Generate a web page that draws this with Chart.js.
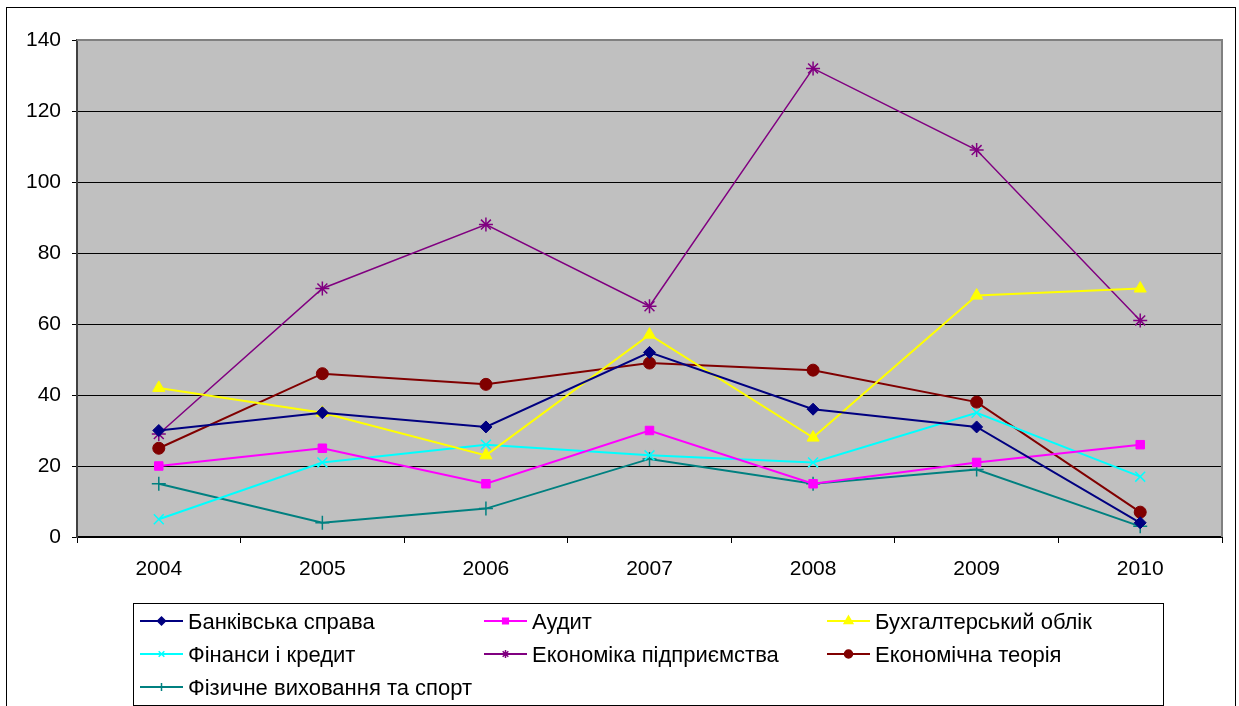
<!DOCTYPE html>
<html>
<head>
<meta charset="utf-8">
<script src="https://cdn.jsdelivr.net/npm/chart.js@4.4.1/dist/chart.umd.min.js"></script>
<style>
  html, body { margin: 0; padding: 0; background: #fff; }
  #wrap { width: 1239px; height: 706px; }
</style>
</head>
<body>
<div id="wrap"><canvas id="lineChart" width="1239" height="706"></canvas></div>
<script>
var years = ['2004', '2005', '2006', '2007', '2008', '2009', '2010'];

var seriesNames = [
  'Банківська справа',
  'Аудит',
  'Бухгалтерський облік',
  'Фінанси і кредит',
  'Економіка підприємства',
  'Економічна теорія',
  'Фізичне виховання та спорт'
];

var banking = [30, 35, 31, 52, 36, 31, 4];
var audit = [20, 25, 15, 30, 15, 21, 26];
var accounting = [42, 35, 23, 57, 28, 68, 70];
var finance = [5, 21, 26, 23, 21, 35, 17];
var enterprise = [29, 70, 88, 65, 132, 109, 61];
var theory = [25, 46, 43, 49, 47, 38, 7];
var sport = [15, 4, 8, 22, 15, 19, 3];

var colors = ['#000080', '#FF00FF', '#FFFF00', '#00FFFF', '#800080', '#800000', '#008080'];
var markers = ['rectRot', 'rect', 'triangle', 'crossRot', 'star', 'circle', 'cross'];
var values = [banking, audit, accounting, finance, enterprise, theory, sport];

var FONT = '"Liberation Sans", Arial, sans-serif';

var datasets = values.map(function (v, i) {
  var hollow = markers[i] === 'crossRot' || markers[i] === 'star' || markers[i] === 'cross';
  return {
    label: seriesNames[i],
    data: v,
    borderColor: colors[i],
    backgroundColor: colors[i],
    pointBackgroundColor: colors[i],
    pointBorderColor: colors[i],
    borderWidth: i === 4 ? 1.5 : 2,
    pointStyle: markers[i],
    pointRadius: markers[i] === 'triangle' ? 7 : (hollow ? 7 : 6),
    pointBorderWidth: hollow ? 1.5 : 1,
    tension: 0,
    fill: false
  };
});

// grey plot area, its border, and the frame round the whole chart
var framePlugin = {
  id: 'framePlugin',
  beforeDraw: function (chart) {
    var c = chart.ctx, a = chart.chartArea;
    c.save();
    c.fillStyle = '#fff';
    c.fillRect(0, 0, chart.width, chart.height);
    c.fillStyle = '#C0C0C0';
    c.fillRect(a.left, a.top, a.right - a.left, a.bottom - a.top);
    c.strokeStyle = '#000';
    c.lineWidth = 1;
    c.strokeRect(6.5, 7.5, 1229, 710);
    c.restore();
  },
  afterDraw: function (chart) {
    var c = chart.ctx, a = chart.chartArea;
    c.save();
    c.strokeStyle = '#808080';
    c.lineWidth = 2;
    c.beginPath();
    c.moveTo(a.left, a.top);
    c.lineTo(a.right, a.top);
    c.lineTo(a.right, a.bottom);
    c.stroke();
    c.restore();
  }
};

// boxed legend, three columns
var boxLegend = {
  id: 'boxLegend',
  afterDraw: function (chart) {
    var c = chart.ctx;
    var boxX = 133, boxY = 603, boxW = 1030, boxH = 102;
    var colX = [140, 484, 827];
    var rowY = [621, 654, 687];
    c.save();
    c.strokeStyle = '#000';
    c.lineWidth = 1;
    c.strokeRect(boxX + 0.5, boxY + 0.5, boxW, boxH);
    chart.data.datasets.forEach(function (ds, i) {
      var x = colX[i % 3], y = rowY[Math.floor(i / 3)];
      c.strokeStyle = ds.borderColor;
      c.lineWidth = 2;
      c.beginPath();
      c.moveTo(x, y);
      c.lineTo(x + 43, y);
      c.stroke();
      c.fillStyle = ds.borderColor;
      c.lineWidth = 1.5;
      Chart.helpers.drawPoint(c, {
        pointStyle: ds.pointStyle,
        radius: ds.pointStyle === 'triangle' ? 5 : 4,
        rotation: 0,
        borderWidth: 1.5
      }, x + 21.5, y);
      c.fillStyle = '#000';
      c.font = '22px ' + FONT;
      c.textBaseline = 'middle';
      c.textAlign = 'left';
      c.fillText(ds.label, x + 48, y + 2);
    });
    c.restore();
  }
};

var ctx = document.getElementById('lineChart');
var lineChart = new Chart(ctx, {
  type: 'line',
  data: { labels: years, datasets: datasets },
  plugins: [framePlugin, boxLegend],
  options: {
    responsive: false,
    animation: false,
    devicePixelRatio: 1,
    layout: { padding: { left: 0, right: 17, top: 40, bottom: 0 } },
    plugins: {
      legend: { display: false },
      tooltip: { enabled: false },
      title: { display: false }
    },
    scales: {
      x: {
        offset: true,
        grid: {
          offset: true,
          drawOnChartArea: false,
          drawTicks: true,
          tickLength: 6,
          color: '#000'
        },
        border: { color: '#000', width: 2 },
        ticks: {
          color: '#000',
          padding: 14,
          font: { family: FONT, size: 21 }
        },
        afterFit: function (s) { s.height = 169; }
      },
      y: {
        min: 0,
        max: 140,
        ticks: {
          stepSize: 20,
          color: '#000',
          padding: 11,
          font: { family: FONT, size: 21 }
        },
        grid: {
          color: '#000',
          lineWidth: 1,
          tickLength: 5,
          drawTicks: true
        },
        border: { color: '#404040', width: 2 },
        afterFit: function (s) { s.width = 77; }
      }
    }
  }
});
</script>
</body>
</html>
